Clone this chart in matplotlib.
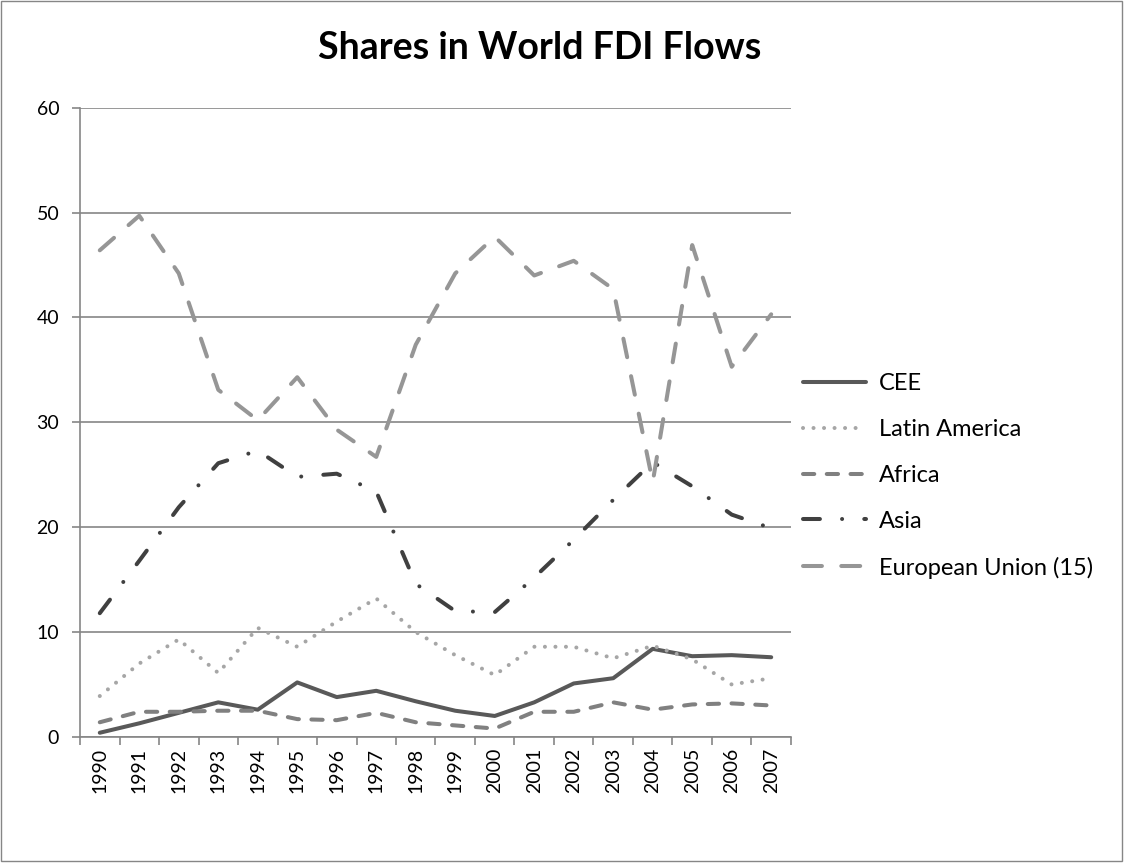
import matplotlib.pyplot as plt
from matplotlib.patches import Rectangle

plt.rcParams['font.family'] = ['Lato', 'DejaVu Sans']

years = [str(y) for y in range(1990, 2008)]
cee = [0.4, 1.3, 2.3, 3.3, 2.6, 5.2, 3.8, 4.4, 3.4, 2.5, 2.0, 3.3, 5.1, 5.6, 8.4, 7.7, 7.8, 7.6]
latin_america = [3.9, 7.0, 9.3, 6.1, 10.4, 8.6, 11.0, 13.2, 10.0, 7.8, 5.9, 8.6, 8.6, 7.5, 8.7, 7.4, 5.0, 5.6]
africa = [1.4, 2.4, 2.4, 2.5, 2.5, 1.7, 1.6, 2.3, 1.4, 1.1, 0.8, 2.4, 2.4, 3.3, 2.6, 3.1, 3.2, 3.0]
asia = [11.8, 16.8, 21.9, 26.1, 27.3, 24.8, 25.1, 23.4, 14.6, 12.0, 11.9, 15.2, 18.8, 22.6, 26.2, 23.9, 21.2, 19.9]
eu15 = [46.4, 49.7, 44.2, 33.1, 30.2, 34.3, 29.3, 26.7, 37.4, 44.2, 47.7, 44.0, 45.4, 42.7, 24.3, 46.9, 35.3, 40.3]

fig = plt.figure(figsize=(11.24, 8.67), dpi=100)
ax = fig.add_axes([0.0712, 0.150, 0.6325, 0.7258])

x = range(len(years))
lw = 2.9
ax.plot(x, cee, color='#595959', lw=lw, solid_capstyle='round', label='CEE')
ax.plot(x, latin_america, color='#a6a6a6', lw=lw, linestyle=(0, (0.01, 2.6)),
        dash_capstyle='round', label='Latin America')
ax.plot(x, africa, color='#808080', lw=lw, linestyle=(0, (2.8, 3.1)),
        dash_capstyle='round', label='Africa')
ax.plot(x, asia, color='#404040', lw=lw, linestyle=(0, (4.2, 5.5, 0.01, 5.5)),
        dash_capstyle='round', label='Asia')
ax.plot(x, eu15, color='#969696', lw=lw, linestyle=(0, (4.7, 4.8)),
        dash_capstyle='round', label='European Union (15)')

ax.set_xlim(-0.5, len(years) - 0.5)
ax.set_ylim(0, 60)
ax.set_yticks(range(0, 61, 10))
ax.yaxis.grid(True, color='#868686', lw=1.2)
ax.set_axisbelow(True)

ax.set_xticks(list(x))
ax.set_xticklabels(years, rotation=90, fontsize=14)
ax.set_xticks([i - 0.5 for i in range(len(years) + 1)], minor=True)
ax.tick_params(axis='x', which='major', length=0, pad=8)
ax.tick_params(axis='x', which='minor', length=6, width=1.2, color='#868686')
ax.tick_params(axis='y', length=6, width=1.2, color='#868686', labelsize=14, pad=9)

for s in ['top', 'right']:
    ax.spines[s].set_visible(False)
for s in ['left', 'bottom']:
    ax.spines[s].set_color('#868686')
    ax.spines[s].set_linewidth(1.2)

fig.text(0.48, 1 - 48 / 867, 'Shares in World FDI Flows', ha='center', va='center',
         fontsize=27, fontweight='bold')

ax.legend(loc='center left', bbox_to_anchor=(0.714, 0.451), bbox_transform=fig.transFigure,
          frameon=False, fontsize=17, handlelength=2.7, handletextpad=0.55,
          labelspacing=1.05, borderpad=0, borderaxespad=0)

fig.add_artist(Rectangle((0.0005, 0.007), 0.998, 0.992, transform=fig.transFigure,
                         fill=False, edgecolor='#868686', lw=1))

fig.savefig('out.png', dpi=100)
